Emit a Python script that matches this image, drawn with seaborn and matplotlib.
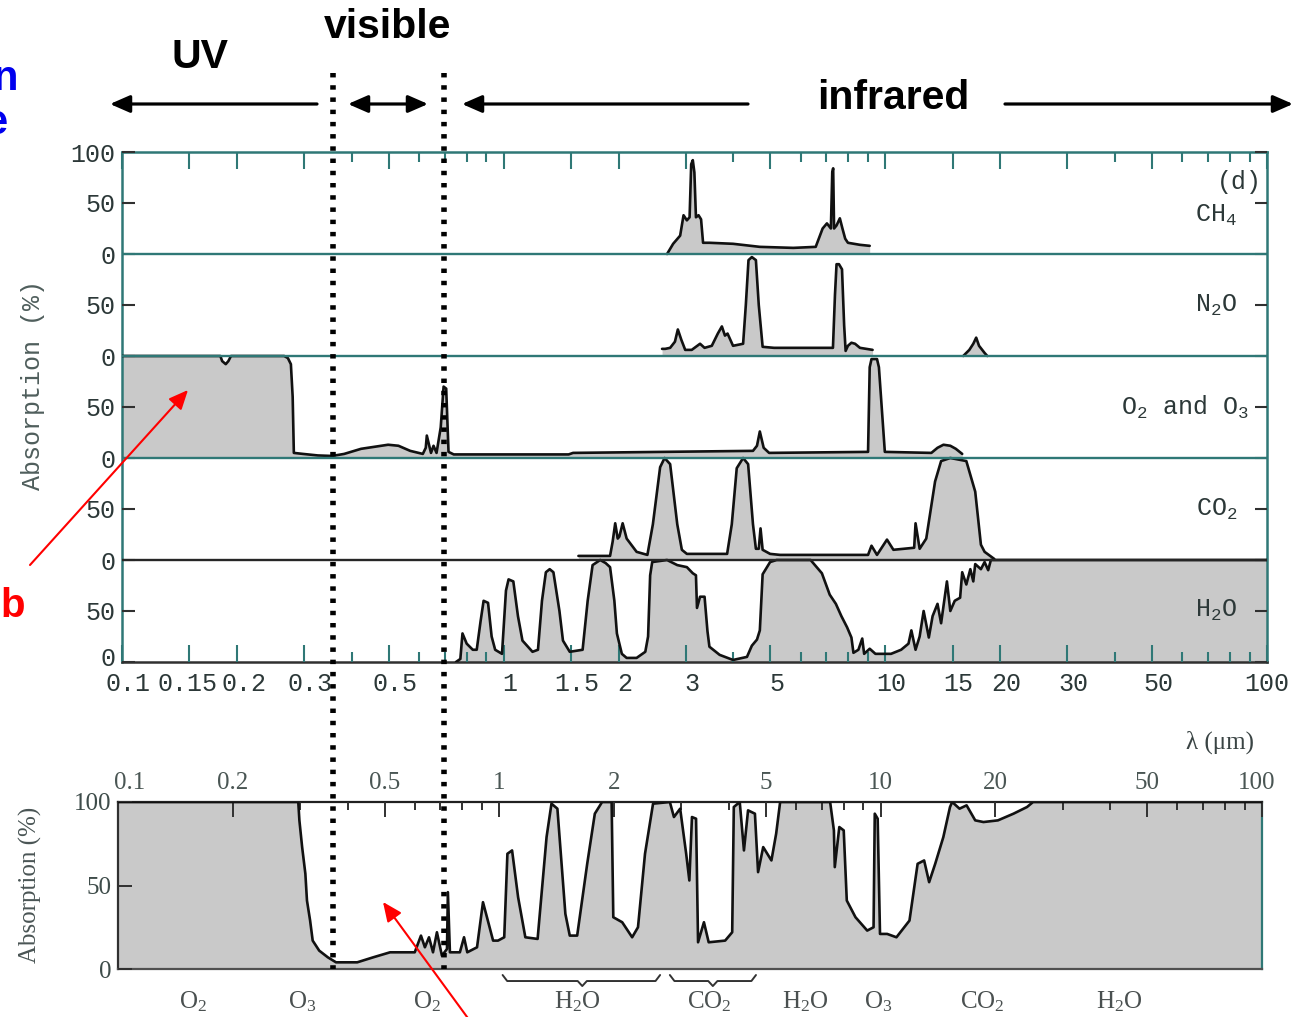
import numpy as np
import matplotlib
matplotlib.use("Agg")
import matplotlib.pyplot as plt
import matplotlib.transforms as mtransforms
from matplotlib.lines import Line2D
from matplotlib.patches import FancyArrowPatch, ArrowStyle
from matplotlib.ticker import FixedLocator, FixedFormatter, NullFormatter
import seaborn as sns

nan = np.nan

# ---------------------------------------------------------------------------
# Absorption (%) versus wavelength (µm) for the individual absorbers
# ---------------------------------------------------------------------------
ch4_wl = [2.68, 2.78, 2.90, 2.96, 3.02, 3.07, 3.10, 3.13, 3.16, 3.19, 3.24, 3.29,
          3.33, 3.46, 3.99, 4.69, 5.74, 6.57, 6.85, 7.03, 7.20, 7.26, 7.30, 7.34,
          7.45, 7.60, 7.72, 7.85, 7.98, 8.58, 9.10]
ch4_abs = [0, 10, 18, 38, 33, 36, 88, 92, 80, 36, 38, 34,
           11, 11, 10, 7, 6, 7, 25, 30, 25, 80, 84, 25,
           28, 35, 25, 15, 11, 9, 8]

n2o_wl = [2.60, 2.65, 2.73, 2.81, 2.86, 2.92, 2.99, 3.11, 3.27, 3.36, 3.51, 3.64,
          3.73, 3.80, 3.86, 3.99, 4.24, 4.31, 4.38, 4.47, 4.58, 4.66, 4.77, 5.11,
          7.29, 7.38, 7.45, 7.56, 7.70, 7.80, 7.87, 7.98, 8.15, 8.33, 8.58, 9.26,
          nan, 16.0, 16.6, 17.0, 17.3, 17.6, 18.2, 18.5]
n2o_abs = [7, 7, 8, 14, 26, 16, 6, 6, 12, 8, 10, 22,
           29, 20, 22, 10, 12, 50, 94, 97, 94, 50, 9, 8,
           8, 60, 90, 90, 85, 30, 5, 10, 13, 12, 8, 6,
           nan, 0, 6, 12, 18, 10, 3, 0]

o3_wl = [0.100, 0.181, 0.183, 0.187, 0.190, 0.193, 0.266, 0.272, 0.277, 0.280,
         0.282, 0.298, 0.326, 0.355, 0.382, 0.423, 0.498, 0.530, 0.569, 0.614,
         0.625, 0.629, 0.645, 0.655, 0.667, 0.684, 0.696, 0.707, 0.717, 0.740,
         1.48, 1.52, 4.50, 4.61, 4.69, 4.80, 4.96, 9.01, 9.10, 9.20, 9.51, 9.62,
         9.97, 13.2, 13.7, 14.2, 14.8, 15.3, 15.9]
o3_abs = [100, 100, 95, 92, 95, 100, 100, 98, 92, 60,
          5, 4, 2.5, 2, 4, 9, 13, 12, 7, 4,
          10, 22, 5, 12, 5, 30, 70, 68, 6, 3.5,
          3.5, 5, 7, 12, 26, 10, 5, 6, 89, 97, 97, 89,
          6, 5, 10, 13, 12, 9, 4]

co2_wl = [1.57, 1.90, 1.93, 1.96, 1.99, 2.01, 2.05, 2.10, 2.23, 2.38, 2.46, 2.57,
          2.64, 2.73, 2.85, 2.93, 3.02, 3.85, 3.96, 4.08, 4.24, 4.37, 4.50, 4.58,
          4.66, 4.71, 4.77, 4.99, 5.30, 9.01, 9.20, 9.51, 10.1, 10.5, 11.9, 12.0,
          12.3, 12.8, 13.5, 14.0, 14.8, 16.3, 17.2, 17.8, 18.2, 19.3]
co2_abs = [4, 4, 18, 36, 21, 23, 36, 21, 8, 5, 35, 91,
           100, 94, 35, 10, 6, 6, 35, 90, 100, 94, 35, 11,
           11, 31, 10, 6, 5, 5, 14, 5, 20, 10, 12, 36,
           11, 21, 77, 97, 100, 97, 67, 15, 8, 1]

h2o_wl = [0.750, 0.77, 0.78, 0.80, 0.83, 0.85, 0.87, 0.886, 0.91, 0.93, 0.95, 0.99,
          1.00, 1.014, 1.03, 1.06, 1.09, 1.12, 1.19, 1.23, 1.26, 1.29, 1.32, 1.35,
          1.40, 1.43, 1.49, 1.61, 1.66, 1.71, 1.79, 1.85, 1.90, 1.95, 1.98, 2.04,
          2.10, 2.23, 2.35, 2.39, 2.42, 2.45, 2.68, 2.85, 3.02, 3.13, 3.19, 3.21,
          3.27, 3.36, 3.42, 3.46, 3.68, 3.99, 4.34, 4.47, 4.61, 4.69, 4.77, 4.99,
          5.19, 6.37, 6.82, 7.15, 7.42, 7.67, 7.94, 8.15, 8.25, 8.50, 8.70, 8.80,
          9.10, 9.42, 10.35, 11.0, 11.5, 11.7, 12.0, 12.3, 12.6, 13.0, 13.3, 13.7,
          14.0, 14.5, 14.8, 15.2, 15.7, 15.9, 16.3, 16.7, 17.0, 17.2, 17.8, 18.2,
          18.6, 18.9, 100]
h2o_abs = [0, 3, 28, 18, 12, 12, 40, 60, 58, 25, 12, 8,
           34, 70, 81, 79, 45, 21, 10, 12, 60, 88, 91, 88,
           50, 21, 10, 12, 60, 95, 100, 97, 93, 60, 28, 8,
           4, 4, 10, 25, 85, 98, 100, 95, 93, 87, 85, 53,
           64, 64, 30, 15, 7, 2, 5, 16, 22, 31, 86, 98,
           100, 100, 87, 66, 57, 45, 34, 24, 9, 12, 23, 8,
           13, 8, 8, 12, 18, 31, 12, 25, 50, 24, 45, 57,
           38, 79, 50, 60, 63, 88, 76, 91, 79, 96, 91, 98,
           90, 100, 100]

# Total absorption by the atmosphere
total_wl = [0.100, 0.297, 0.299, 0.304, 0.310, 0.313, 0.319, 0.324, 0.337, 0.355,
            0.373, 0.424, 0.467, 0.517, 0.600, 0.623, 0.638, 0.654, 0.670, 0.686,
            0.707, 0.729, 0.733, 0.742, 0.788, 0.808, 0.824, 0.874, 0.906, 0.928,
            0.963, 0.992, 1.03, 1.05, 1.08, 1.12, 1.17, 1.26, 1.33, 1.37,
            1.42, 1.49, 1.53, 1.60, 1.70, 1.78, 1.86, 1.97, 1.99, 2.10,
            2.23, 2.31, 2.41, 2.53, 2.80, 2.87, 2.98, 3.09, 3.15, 3.20,
            3.28, 3.32, 3.44, 3.54, 3.91, 4.08, 4.12, 4.27, 4.38, 4.49,
            4.68, 4.77, 4.92, 5.17, 5.32, 5.45, 7.37, 7.54, 7.58, 7.79,
            8.00, 8.15, 8.59, 9.22, 9.58, 9.65, 9.82, 9.96, 10.4, 11.0,
            11.9, 12.5, 13.0, 13.4, 13.9, 14.6, 15.2, 15.4, 16.1, 16.8,
            17.7, 18.6, 20.3, 22.3, 24.2, 25.1, 100]
total_abs = [100, 100, 89, 73, 57, 41, 29, 17, 11, 7,
             4, 4, 7, 10, 10, 20, 13, 19, 10, 22,
             8, 12, 46, 10, 10, 19, 10, 13, 40, 31,
             17, 17, 19, 69, 71, 43, 19, 18, 79, 99,
             96, 33, 20, 20, 63, 93, 100, 100, 31, 28,
             19, 25, 69, 99, 100, 91, 96, 69, 53, 91,
             90, 16, 28, 16, 17, 22, 97, 100, 71, 95,
             93, 58, 73, 65, 81, 100, 100, 83, 61, 85,
             83, 41, 31, 23, 25, 93, 90, 21, 21, 19,
             29, 63, 65, 52, 63, 79, 97, 100, 96, 98,
             89, 88, 89, 93, 97, 100, 100]

# Axis ticks
top_ticks = [0.1, 0.15, 0.2, 0.3, 0.5, 1, 1.5, 2, 3, 5, 10, 15, 20, 30, 50, 100]
top_tick_labels = ["0.1", "0.15", "0.2", "0.3", "0.5", "1", "1.5", "2", "3", "5",
                   "10", "15", "20", "30", "50", "100"]
top_minor = [0.4, 0.6, 0.7, 0.8, 0.9, 4, 6, 7, 8, 9, 40, 60, 70, 80, 90]
strip_tick_labels = ["0", "50", "0", "50", "0", "50", "0", "50", "0", "50", "100"]

bottom_ticks = [0.1, 0.2, 0.5, 1, 2, 5, 10, 20, 50, 100]
bottom_tick_labels = ["0.1", "0.2", "0.5", "1", "2", "5", "10", "20", "50", "100"]
bottom_minor = [0.3, 0.4, 0.6, 0.7, 0.8, 0.9, 3, 4, 6, 7, 8, 9, 30, 40, 60, 70, 80, 90]

gas_names = [r"CH$_4$", r"N$_2$O", r"O$_2$ and O$_3$", r"CO$_2$", r"H$_2$O"]
band_names = [r"O$_2$", r"O$_3$", r"O$_2$", r"H$_2$O", r"CO$_2$", r"H$_2$O",
              r"O$_3$", r"CO$_2$", r"H$_2$O"]
band_centers_um = [0.157, 0.304, 0.646, 1.60, 3.55, 6.33, 9.84, 18.5, 42.2]
band_brackets_um = [(1.02, 1.65, 2.64), (2.80, 3.63, 4.71)]
visible_edges_um = [0.357, 0.698]

# ---------------------------------------------------------------------------
sns.set_theme(style="white")
plt.rcParams["font.family"] = ["Liberation Sans", "DejaVu Sans"]
plt.rcParams["mathtext.default"] = "regular"

W, H = 1307, 1017
fig = plt.figure(figsize=(W / 100, H / 100), dpi=100)
fig.patch.set_facecolor("white")


def fx(p):
    return p / W


def fy(p):
    return 1 - p / H


TEAL = "#2f7876"
INK = "#111111"
GREY = "#c9c9c9"
TXT = "#2c3838"
MONO = ["Liberation Mono", "DejaVu Sans Mono"]
SERIF = ["Liberation Serif", "DejaVu Serif"]


def draw_absorption(ax, wl, ab, base=0.0, lw=1.9):
    wl = np.asarray(wl, float)
    ab = np.asarray(ab, float)
    cuts = np.flatnonzero(np.isnan(wl))
    for w, a in zip(np.split(wl, cuts), np.split(ab, cuts)):
        keep = ~np.isnan(w)
        w, a = w[keep], a[keep] + base
        ax.fill_between(w, base, a, color=GREY, linewidth=0, zorder=2)
        sns.lineplot(x=w, y=a, ax=ax, color=INK, linewidth=lw, sort=False,
                     estimator=None, zorder=3)


def shift_label(lab, dx_px, dy_px=0):
    lab.set_transform(lab.get_transform()
                      + mtransforms.ScaledTranslation(dx_px / 100, dy_px / 100,
                                                      fig.dpi_scale_trans))


# ---------------------------------------------------------------------------
# Upper panel: stacked spectra of the individual gases
# ---------------------------------------------------------------------------
ax = fig.add_axes([fx(122), fy(662), fx(1267) - fx(122), fy(152) - fy(662)])
ax.set_xscale("log")
ax.set_axisbelow(False)
strips = [(ch4_wl, ch4_abs), (n2o_wl, n2o_abs), (o3_wl, o3_abs),
          (co2_wl, co2_abs), (h2o_wl, h2o_abs)]
for i, (w, a) in enumerate(strips):
    draw_absorption(ax, w, a, base=100 * (4 - i))
ax.set_xlim(0.1, 100)
ax.set_ylim(0, 500)
for k in range(1, 5):
    ax.axhline(100 * k, color=TEAL if k > 1 else "#262626", lw=1.7, zorder=4)

for s in ax.spines.values():
    s.set_color(TEAL)
    s.set_linewidth(1.8)
ax.spines["bottom"].set_color("#303030")

ax.xaxis.set_major_locator(FixedLocator(top_ticks))
ax.xaxis.set_major_formatter(FixedFormatter(top_tick_labels))
ax.xaxis.set_minor_locator(FixedLocator(top_minor))
ax.xaxis.set_minor_formatter(NullFormatter())
ax.tick_params(axis="x", which="both", direction="in", top=True, bottom=True,
               color=TEAL, width=1.5)
ax.tick_params(axis="x", which="major", length=12, labelsize=18,
               labelcolor=TXT, pad=7)
ax.tick_params(axis="x", which="minor", length=7)
ax.set_yticks(np.arange(0, 501, 50))
ax.set_yticklabels(strip_tick_labels)
ax.tick_params(axis="y", which="major", direction="in", left=True, right=True,
               length=9, width=1.5, color="#303030", labelsize=18,
               labelcolor=TXT, pad=5)
for lab in ax.get_xticklabels() + ax.get_yticklabels():
    lab.set_fontfamily(MONO)
top_label_shift = [6, -2, 7, 6, 6, 6, 6, 6, 6, 6, 6, 6, 6, 6, 6, 0]
for lab, dx in zip(ax.get_xticklabels(), top_label_shift):
    shift_label(lab, dx)
shift_label(ax.get_yticklabels()[0], 0, 5)

ax.set_xlabel("")
ax.set_ylabel("Absorption (%)", fontfamily=MONO, fontsize=18, color="#4f5e5c")
ax.yaxis.set_label_coords(-0.067, 0.543)

label_levels = [38, 50, 50, 50, 51]
label_anchor = [0.974, 0.974, 0.984, 0.974, 0.974]
blend = mtransforms.blended_transform_factory(ax.transAxes, ax.transData)
for i, name in enumerate(gas_names):
    ax.text(label_anchor[i], 100 * (4 - i) + label_levels[i], name,
            transform=blend, ha="right", va="center", fontfamily=MONO,
            fontsize=18, color=TXT, zorder=6)
ax.text(0.9956, 471, "(d)", transform=blend, ha="right", va="center",
        fontfamily=MONO, fontsize=18, color=TXT, zorder=6)

# ---------------------------------------------------------------------------
# Lower panel: total atmospheric absorption
# ---------------------------------------------------------------------------
ax2 = fig.add_axes([fx(118), fy(969), fx(1262) - fx(118), fy(802) - fy(969)])
ax2.set_xscale("log")
ax2.set_axisbelow(False)
draw_absorption(ax2, total_wl, total_abs, lw=1.9)
ax2.set_xlim(0.1, 100)
ax2.set_ylim(0, 100)
for side, c in [("top", "#202020"), ("left", "#303030"),
                ("bottom", "#505050"), ("right", TEAL)]:
    ax2.spines[side].set_color(c)
    ax2.spines[side].set_linewidth(1.6)

ax2.xaxis.set_ticks_position("top")
ax2.xaxis.set_major_locator(FixedLocator(bottom_ticks))
ax2.xaxis.set_major_formatter(FixedFormatter(bottom_tick_labels))
ax2.xaxis.set_minor_locator(FixedLocator(bottom_minor))
ax2.xaxis.set_minor_formatter(NullFormatter())
ax2.tick_params(axis="x", which="both", direction="in", top=True, bottom=False,
                labeltop=True, labelbottom=False, color="#303030", width=1.4)
ax2.tick_params(axis="x", which="major", length=11, labelsize=18,
                labelcolor="#4a5654", pad=6)
ax2.tick_params(axis="x", which="minor", length=6)
ax2.set_yticks([0, 50, 100])
ax2.set_yticklabels(["0", "50", "100"])
ax2.tick_params(axis="y", direction="in", left=True, right=False, length=10,
                width=1.4, color="#303030", labelsize=18, labelcolor="#3e4c4a", pad=5)
for lab in ax2.get_xticklabels() + ax2.get_yticklabels():
    lab.set_fontfamily(SERIF)
xl2 = ax2.get_xticklabels()
shift_label(xl2[0], 12)
shift_label(xl2[-1], -5)

ax2.set_xlabel("")
ax2.set_ylabel("Absorption (%)", fontfamily=SERIF, fontsize=18, color="#4a5555")
ax2.yaxis.set_label_coords(-0.066, 0.503)
ax2.text(0.963, 1.36, "λ (μm)", transform=ax2.transAxes, ha="center",
         va="center", fontfamily=SERIF, fontsize=18, color="#3a4444")

blend2 = mtransforms.blended_transform_factory(ax2.transData, ax2.transAxes)
for name, c in zip(band_names, band_centers_um):
    ax2.text(c, -0.198, name, transform=blend2, ha="center", va="center",
             fontfamily=SERIF, fontsize=18, color="#4a5050", clip_on=False)
d = 0.012
for xl, xc, xr in band_brackets_um:
    L, C, R = np.log10([xl, xc, xr])
    bx = 10 ** np.array([L, L + d, C - d, C, C + d, R - d, R])
    by = [-0.036, -0.072, -0.072, -0.102, -0.072, -0.072, -0.036]
    ax2.plot(bx, by, transform=blend2, color="#333333", lw=1.4, clip_on=False)

# ---------------------------------------------------------------------------
# Spectral region headers, arrows and markers
# ---------------------------------------------------------------------------
head_kw = dict(ha="center", va="center", fontsize=29.5, fontweight="bold",
               color="black", family=["Liberation Sans", "DejaVu Sans"])
fig.text(fx(200), fy(57), "UV", **head_kw)
fig.text(fx(388), fy(27), "visible", **head_kw)
fig.text(fx(893), fy(98), "infrared", **head_kw)


def fig_arrow(p0, p1, style="-|>", color="black", lw=2.3, hl=0.8, hw=0.35, ms=15):
    fig.add_artist(FancyArrowPatch((fx(p0[0]), fy(p0[1])), (fx(p1[0]), fy(p1[1])),
                                   transform=fig.transFigure,
                                   arrowstyle=ArrowStyle(style, head_length=hl,
                                                         head_width=hw),
                                   mutation_scale=ms, lw=lw, color=color,
                                   shrinkA=0, shrinkB=0, zorder=12))


fig_arrow((317, 104), (110, 104))
fig_arrow((348, 104), (428, 104), style="<|-|>")
fig_arrow((748, 104), (462, 104))
fig_arrow((1005, 104), (1293, 104))

fig_arrow((30, 565), (188, 390), color="red", lw=1.5, hl=0.9, hw=0.4, ms=13)
fig_arrow((470, 1021), (383, 902), color="red", lw=1.5, hl=0.9, hw=0.4, ms=13)

inv = fig.transFigure.inverted()
for wl in visible_edges_um:
    xd = ax.transData.transform((wl, 250))[0]
    xf = inv.transform((xd, 0))[0]
    fig.add_artist(Line2D([xf, xf], [fy(73), fy(969)], transform=fig.transFigure,
                          color="black", lw=4, linestyle=(0, (0.8, 1.4)),
                          dash_capstyle="butt", zorder=11))

fig.text(fx(18), fy(90), "n", ha="right", va="baseline", fontsize=30,
         fontweight="bold", color="#0000ee")
fig.text(fx(8), fy(134), "e", ha="right", va="baseline", fontsize=30,
         fontweight="bold", color="#0000ee")
fig.text(fx(0), fy(617), "b", ha="left", va="baseline", fontsize=29,
         fontweight="bold", color="#ff0000")

fig.savefig("out.png", dpi=100, facecolor="white")
